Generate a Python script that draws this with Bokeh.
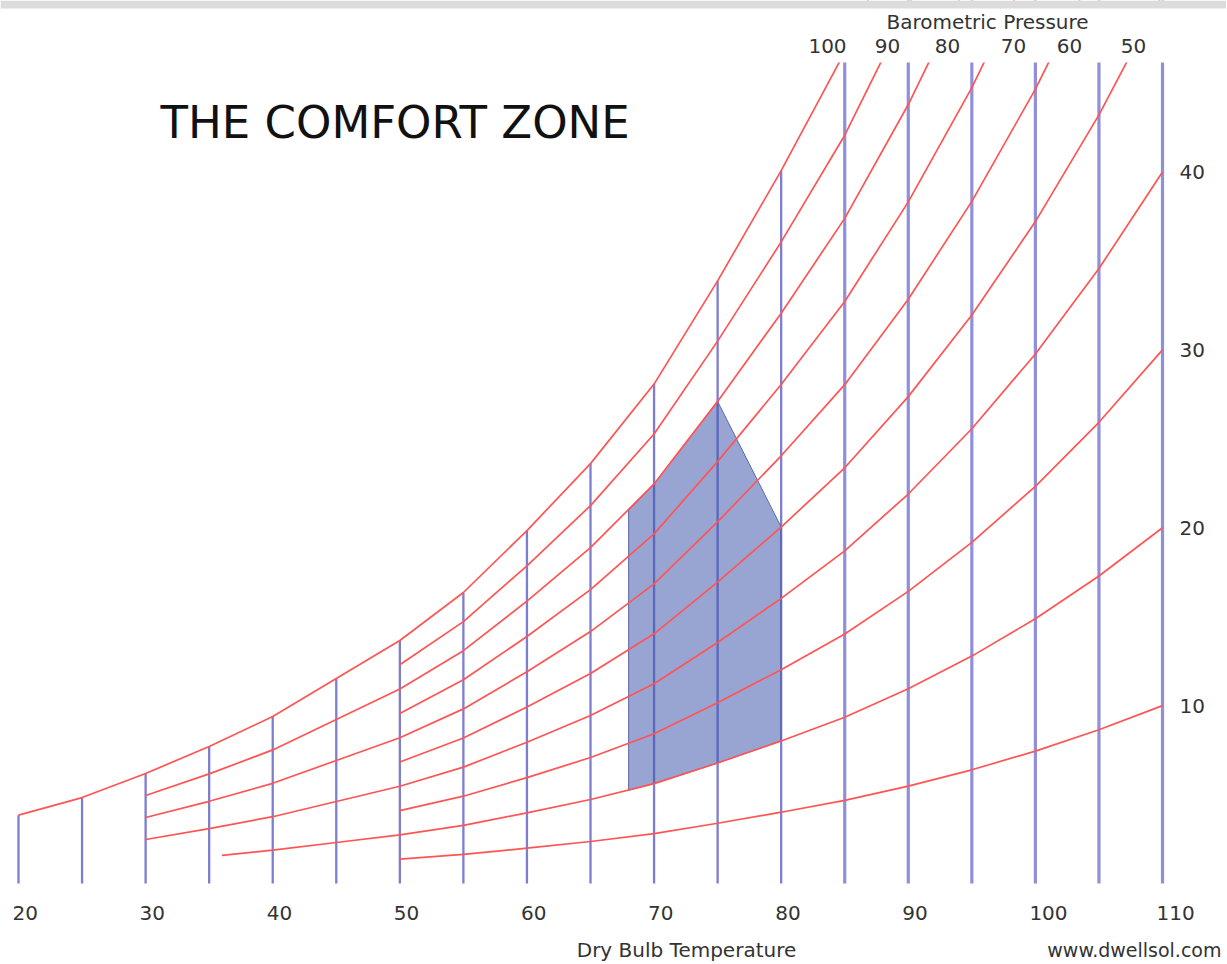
from bokeh.plotting import figure
from bokeh.models import Range1d, Label, ColumnDataSource
from bokeh.embed import file_html
from bokeh.resources import INLINE
from bokeh.core.properties import value

# ---------------- data ----------------
# dry bulb temperatures of the vertical grid lines (deg F)
temps = [20, 25, 30, 35, 40, 45, 50, 55, 60, 65, 70, 75, 80, 85, 90, 95, 100, 105, 110]
# saturation (100 % RH) vapour pressure at each temperature (psia)
sat_vp = [0.049, 0.0616, 0.0789, 0.0982, 0.1197, 0.147, 0.1742, 0.2086, 0.253, 0.301,
          0.358, 0.432, 0.511, 0.596, 0.698, 0.815, 0.949, 1.102, 1.275]
# relative humidity curves and the temperature where each one starts
rh_levels = [100, 90, 80, 70, 60, 50, 40, 30, 20, 10]
rh_start_temp = [20, 50, 30, 50, 30, 50, 30, 50, 40, 50]
# the 20 % curve begins a little before the 40 F line
rh20_lead_temp = [36]
rh20_lead_vp = [0.0201]
# comfort zone outline (temperature, vapour pressure)
comfort_temp = [68, 68, 70, 75, 80, 80, 75, 70]
comfort_vp = [0.0668, 0.2674, 0.2864, 0.3456, 0.2555, 0.1022, 0.0864, 0.0716]
# labels
x_tick_labels = [20, 30, 40, 50, 60, 70, 80, 90, 100, 110]
right_rh_labels = [10, 20, 30, 40]
top_rh_labels = [100, 90, 80, 70, 60, 50]

FONT = "DejaVu Sans"
TXT = "#333333"

# chart area limits
X0, X1 = 18.5839, 115.035
Y0, Y1 = -0.05735, 0.63297
CHART_TOP = 0.58853      # upper edge of the drawing area
BAND_BOTTOM = 0.62724    # grey strip at the very top

# ---------------- figure ----------------
p = figure(width=1226, height=963,
           x_range=Range1d(X0, X1), y_range=Range1d(Y0, Y1),
           output_backend="svg", toolbar_location=None,
           x_axis_location=None, y_axis_location=None,
           min_border_left=0, min_border_right=0,
           min_border_top=0, min_border_bottom=0)
p.outline_line_color = None
p.grid.visible = False
p.background_fill_color = "white"
p.border_fill_color = "white"

# vertical dry-bulb lines up to saturation
thin_t = [t for t in temps if t <= 80]
thin_top = [v for t, v in zip(temps, sat_vp) if t <= 80]
thick_t = [t for t in temps if t > 80]
thick_top = [v for t, v in zip(temps, sat_vp) if t > 80]
p.segment(x0=thin_t, y0=[0] * len(thin_t), x1=thin_t, y1=thin_top,
          line_color="#7d7dd2", line_width=2.3)
p.segment(x0=thick_t, y0=[0] * len(thick_t), x1=thick_t, y1=thick_top,
          line_color="#8f8fdc", line_width=3.2)

# comfort zone
p.patch(comfort_temp, comfort_vp, fill_color="#3a52a8", fill_alpha=0.52,
        line_color="#5a6aaa", line_width=1)

# relative humidity curves
xs, ys = [], []
for rh, start in zip(rh_levels, rh_start_temp):
    cx = [t for t in temps if t >= start]
    cy = [v * rh / 100.0 for t, v in zip(temps, sat_vp) if t >= start]
    if rh == 20:
        cx = rh20_lead_temp + cx
        cy = rh20_lead_vp + cy
    xs.append(cx)
    ys.append(cy)
p.multi_line(xs, ys, line_color="#ff5454", line_width=1.7)

# everything above the drawing area is blank (curves run off the top)
p.quad(left=[X0], right=[X1], bottom=[CHART_TOP], top=[Y1],
       fill_color="white", line_color=None)
p.quad(left=[X0], right=[X1], bottom=[BAND_BOTTOM], top=[Y1],
       fill_color="#dcdcdc", line_color=None)

# ---------------- text ----------------
def add_label(x, y, text, size, align="left", baseline="middle", color=TXT, x_offset=0):
    p.add_layout(Label(x=x, y=y, text=text, text_font=FONT,
                       text_font_size=size, text_align=align, x_offset=x_offset,
                       text_baseline=baseline, text_color=color))

# dry bulb tick labels
tick_src = ColumnDataSource(dict(x=x_tick_labels,
                                 y=[-0.0215] * len(x_tick_labels),
                                 t=[str(v) for v in x_tick_labels]))
p.text(x="x", y="y", text="t", source=tick_src, x_offset=-6,
       text_font=value(FONT), text_font_size="20px", text_color=TXT,
       text_align="left", text_baseline="middle")

add_label(31.171, 0.5455, "THE COMFORT ZONE", "45px", color="#111111")

# RH labels at right end of curves
for rh in right_rh_labels:
    add_label(111.34, sat_vp[-1] * rh / 100.0, str(rh), "20px")

# RH labels across the top
top_pos = [83.646, 88.366, 93.087, 98.279, 102.685, 107.72]
for lab, xpos in zip(top_rh_labels, top_pos):
    add_label(xpos, 0.6007, str(lab), "20px", align="center")

add_label(96.234, 0.6172, "Barometric Pressure", "20px", align="center")
add_label(72.553, -0.048, "Dry Bulb Temperature", "20px", align="center")
add_label(114.64, -0.048, "www.dwellsol.com", "19px", align="right")

open("out.html", "w").write(file_html(p, INLINE))
